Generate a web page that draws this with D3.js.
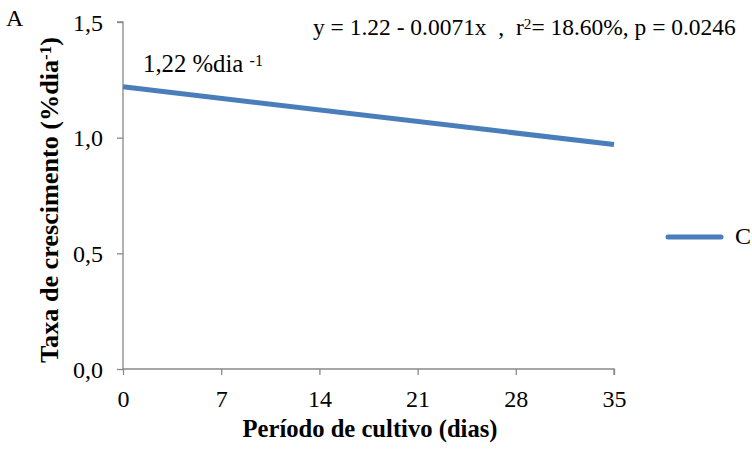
<!DOCTYPE html>
<html>
<head>
<meta charset="utf-8">
<script src="https://cdn.jsdelivr.net/npm/d3@7"></script>
<style>
  body { margin: 0; background: #fff; }
</style>
</head>
<body>
<svg id="chart" width="752" height="449"></svg>
<script>
const days = [0, 35];
const rateC = [1.22, 0.97];
const xTicks = [0, 7, 14, 21, 28, 35];
const yTicks = [0, 0.5, 1.0, 1.5];
const seriesName = 'C';

const serif = '"Liberation Serif", "Times New Roman", serif';
const svg = d3.select('#chart');
const margin = { left: 123, right: 138, top: 22, bottom: 80 };
const width = 752, height = 449;

const x = d3.scaleLinear().domain([0, 35]).range([margin.left, width - margin.right]);
const y = d3.scaleLinear().domain([0, 1.5]).range([height - margin.bottom, margin.top]);

const axisColor = '#898989';
const lineColor = '#4a7ebb';

// resize font so the text spans the wanted length
function fitText(sel, target) {
  const size = parseFloat(sel.style('font-size'));
  const w = sel.node().getComputedTextLength();
  sel.style('font-size', (size * target / w) + 'px');
}

// y axis
const yAxis = svg.append('g')
  .attr('transform', `translate(${margin.left},0)`)
  .call(d3.axisLeft(y).tickValues(yTicks).tickSize(6).tickPadding(14)
    .tickFormat(d => d3.format('.1f')(d).replace('.', ',')));
yAxis.attr('font-family', serif);
yAxis.select('.domain').attr('stroke', axisColor).attr('stroke-width', 1.3)
  .attr('d', `M-6,${y(1.5)}H0V${y(0)}`);
yAxis.selectAll('.tick line').attr('stroke', axisColor).attr('stroke-width', 1.3);
yAxis.selectAll('.tick text').style('font-family', serif).style('font-size', '24px')
  .attr('fill', '#000').attr('dy', 8);

// x axis
const xAxis = svg.append('g')
  .attr('transform', `translate(0,${y(0)})`)
  .call(d3.axisBottom(x).tickValues(xTicks).tickSize(6).tickPadding(10));
xAxis.attr('font-family', serif);
xAxis.select('.domain').attr('stroke', axisColor).attr('stroke-width', 1.3)
  .attr('d', `M${x(0)},0H${x(35)}V6`);
xAxis.selectAll('.tick text').style('font-family', serif).style('font-size', '24px')
  .attr('fill', '#000').attr('y', 38).attr('dy', 0);
xAxis.selectAll('.tick line').attr('stroke', axisColor).attr('stroke-width', 1.3);

// line
const line = d3.line().x((d, i) => x(days[i])).y(d => y(d));
svg.append('path')
  .datum(rateC)
  .attr('fill', 'none')
  .attr('stroke', lineColor)
  .attr('stroke-width', 5)
  .attr('d', line);

// legend
svg.append('line')
  .attr('x1', 668).attr('x2', 721)
  .attr('y1', 237).attr('y2', 237)
  .attr('stroke', lineColor).attr('stroke-width', 5)
  .attr('stroke-linecap', 'round');
svg.append('text')
  .attr('x', 735).attr('y', 244)
  .style('font-family', serif).style('font-size', '24px')
  .text(seriesName);

// axis titles
const xt = svg.append('text')
  .attr('x', 370).attr('y', 437)
  .attr('text-anchor', 'middle')
  .style('font-family', serif).style('font-size', '22px').style('font-weight', 'bold')
  .text('Período de cultivo (dias)');
fitText(xt, 255);

const yt = svg.append('text')
  .attr('transform', `translate(58,200) rotate(-90)`)
  .attr('text-anchor', 'middle')
  .style('font-family', serif).style('font-size', '22px').style('font-weight', 'bold');
yt.append('tspan').text('Taxa de crescimento (%dia');
yt.append('tspan').attr('dy', '-0.4em').style('font-size', '0.65em').text('-1');
yt.append('tspan').attr('dy', '0.26em').text(')');
fitText(yt, 326);

// panel letter
svg.append('text').attr('x', 6).attr('y', 26)
  .style('font-family', serif).style('font-size', '24px').text('A');

// annotations
const a1 = svg.append('text').attr('x', 143).attr('y', 72)
  .style('font-family', serif).style('font-size', '20px')
  .attr('xml:space', 'preserve').style('white-space', 'pre');
a1.append('tspan').text('1,22 %dia ');
a1.append('tspan').attr('dy', '-0.4em').style('font-size', '0.65em').text('-1');
fitText(a1, 120);

const eq = svg.append('text').attr('x', 313).attr('y', 35)
  .style('font-family', serif).style('font-size', '20px')
  .attr('xml:space', 'preserve').style('white-space', 'pre');
eq.append('tspan').text('y = 1.22 - 0.0071x  ,  r');
eq.append('tspan').attr('dy', '-0.4em').style('font-size', '0.65em').text('2');
eq.append('tspan').attr('dy', '0.26em').text('= 18.60%, p = 0.0246');
fitText(eq, 423);
</script>
</body>
</html>
